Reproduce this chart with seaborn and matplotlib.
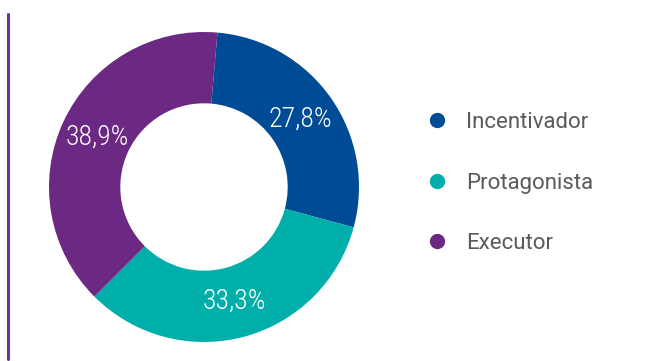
import matplotlib
matplotlib.use("Agg")
import matplotlib.pyplot as plt
from matplotlib.lines import Line2D
import numpy as np
import seaborn as sns

categories = ["Incentivador", "Protagonista", "Executor"]
values = [27.8, 33.3, 38.9]
labels = ["27,8%", "33,3%", "38,9%"]
colors = ["#004B96", "#00AFA9", "#6C2983"]

sns.set_theme(style="white")
plt.rcParams['font.family'] = ['Roboto', 'DejaVu Sans']

W, H = 649, 361
fig = plt.figure(figsize=(W / 100, H / 100), dpi=100)
fig.patch.set_facecolor("white")

cx, cy, r = 204, 361 - 187, 155
ax = fig.add_axes([(cx - r) / W, (cy - r) / H, 2 * r / W, 2 * r / H])
wedges, _ = ax.pie(values, colors=colors, startangle=85, counterclock=False,
                   radius=1, wedgeprops=dict(width=0.46, linewidth=0))
ang = 85.0
for w, v, lab in zip(wedges, values, labels):
    span = v / sum(values) * 360
    mid = np.deg2rad(ang - span / 2)
    ang -= span
    d = 0.76
    ax.text(d * np.cos(mid), d * np.sin(mid), lab, ha="center", va="center",
            color="white", fontsize=20, fontweight="light",
            family=['Liberation Sans Narrow', 'Roboto Condensed', 'Roboto', 'DejaVu Sans'])
ax.set_xlim(-1, 1)
ax.set_ylim(-1, 1)
ax.set_aspect("equal")
ax.axis("off")

# vertical accent line
fig.add_artist(Line2D([8 / W, 8 / W], [1 - 14 / H, 1 - 359 / H], color="#6F2F9F",
                      linewidth=2.2, transform=fig.transFigure))

handles = [Line2D([], [], marker="o", linestyle="none", markersize=10,
                  markerfacecolor=c, markeredgecolor=c) for c in colors]
leg = fig.legend(handles, categories, loc="center left",
                 bbox_to_anchor=(426 / W, 1 - 183 / H), bbox_transform=fig.transFigure,
                 frameon=False, fontsize=16, handlelength=1.0, handletextpad=0.8,
                 labelspacing=1.78, borderpad=0, borderaxespad=0)
for t in leg.get_texts():
    t.set_color("#5A5A5C")

fig.savefig("out.png", dpi=100, facecolor="white")
